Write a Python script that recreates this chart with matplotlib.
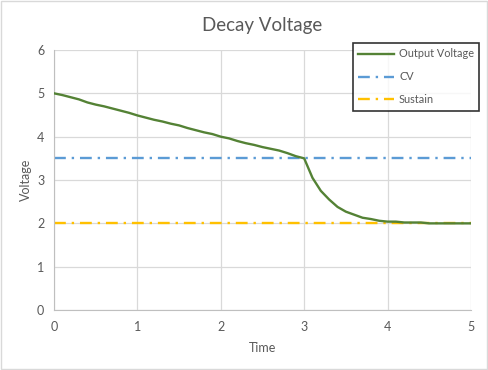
import matplotlib.pyplot as plt
import matplotlib
from matplotlib.patches import Rectangle
matplotlib.rcParams.update({'font.family': 'Lato', 'font.size': 9})

grey = '#595959'

time = [0.0, 0.1, 0.2, 0.3, 0.4, 0.5, 0.6, 0.7, 0.8, 0.9, 1.0,
        1.1, 1.2, 1.3, 1.4, 1.5, 1.6, 1.7, 1.8, 1.9, 2.0,
        2.1, 2.2, 2.3, 2.4, 2.5, 2.6, 2.7, 2.8, 2.9, 3.0,
        3.1, 3.2, 3.3, 3.4, 3.5, 3.6, 3.7, 3.8, 3.9, 4.0,
        4.1, 4.2, 4.3, 4.4, 4.5, 4.6, 4.7, 4.8, 4.9, 5.0]
output_voltage = [5.0, 4.96, 4.91, 4.86, 4.79, 4.74, 4.7, 4.65, 4.6, 4.55, 4.49,
                  4.44, 4.39, 4.35, 4.3, 4.26, 4.2, 4.15, 4.1, 4.06, 4.0,
                  3.96, 3.9, 3.85, 3.81, 3.76, 3.72, 3.68, 3.62, 3.55, 3.5,
                  3.05, 2.75, 2.55, 2.38, 2.27, 2.2, 2.13, 2.1, 2.06, 2.04,
                  2.04, 2.02, 2.02, 2.02, 2.0, 2.0, 2.0, 2.0, 2.0, 2.0]
cv_time = [0, 5]
cv = [3.5, 3.5]
sustain = [2.0, 2.0]

fig = plt.figure(figsize=(4.88, 3.70), dpi=100)
ax = fig.add_axes([0.1107, 0.162, 0.8543, 0.7029])

ax.plot(time, output_voltage, color='#548235', lw=1.7, label='Output Voltage', zorder=3)
ax.plot(cv_time, cv, color='#5B9BD5', lw=1.7, dashes=[5, 2.5, 1, 2.5], label='CV', zorder=2)
ax.plot(cv_time, sustain, color='#FFC000', lw=1.7, dashes=[5, 2.5, 1, 2.5], label='Sustain', zorder=2)

ax.set_xlim(0, 5)
ax.set_ylim(0, 6)
ax.grid(True, color='#D9D9D9', lw=0.9)
ax.set_axisbelow(True)
for s in ['top', 'right']:
    ax.spines[s].set_visible(False)
for s in ['left', 'bottom']:
    ax.spines[s].set_color('#BFBFBF')
ax.tick_params(length=0, colors=grey, labelsize=9, pad=7)
ax.tick_params(axis='x', pad=8)

ax.set_title('Decay Voltage', fontsize=13.5, color=grey, pad=14)
ax.set_xlabel('Time', color=grey, fontsize=9, labelpad=6)
ax.set_ylabel('Voltage', color=grey, fontsize=9)
ax.yaxis.set_label_coords(-0.053, 0.5)

leg = ax.legend(loc='upper left', bbox_to_anchor=(353 / 488, 1 - 43 / 370),
                bbox_transform=fig.transFigure, frameon=True, fancybox=False,
                edgecolor='black', fontsize=7.8, handlelength=3.3, labelspacing=1.1,
                borderpad=0.5, handletextpad=0.45, borderaxespad=0, handleheight=0.7)
leg.get_frame().set_linewidth(1.2)
for t in leg.get_texts():
    t.set_color(grey)

fig.patches.append(Rectangle((0.002, 0.003), 0.995, 0.994, transform=fig.transFigure,
                             fill=False, edgecolor='#D9D9D9', lw=1))

plt.savefig('out.png')
